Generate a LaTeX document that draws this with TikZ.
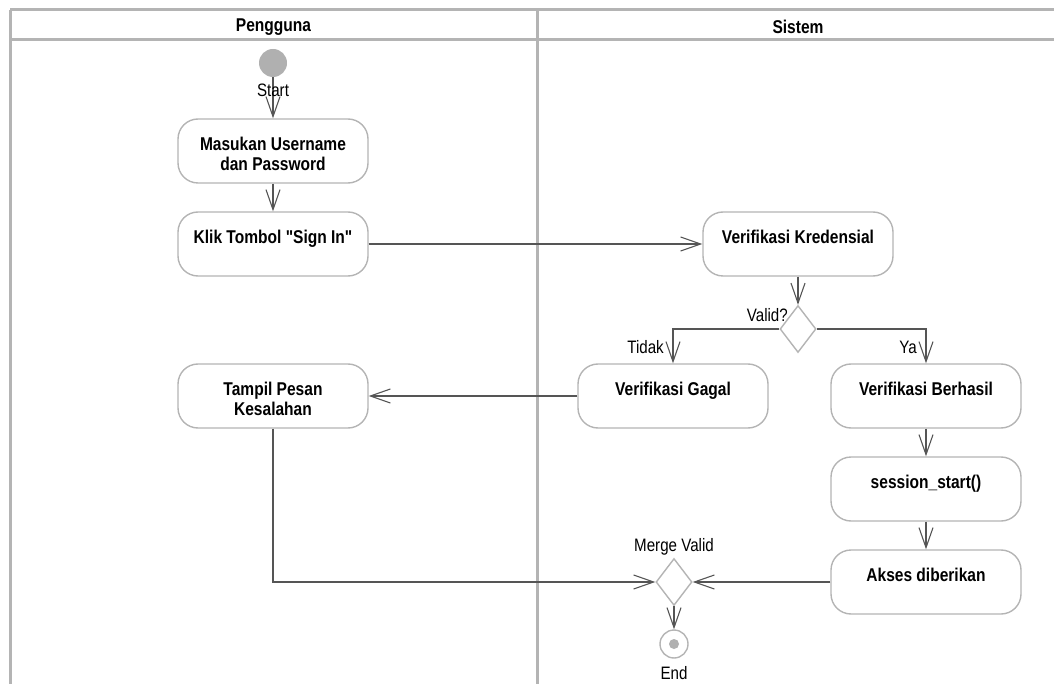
\documentclass[tikz,border=0pt]{standalone}
\usepackage{fontspec}
\usetikzlibrary{arrows.meta,shapes.geometric}
\newfontfamily\narrowsans{Liberation Sans}[FakeStretch=0.84]
\definecolor{lanegray}{HTML}{B4B4B4}
\definecolor{boxgray}{HTML}{B4B4B4}
\definecolor{flowgray}{HTML}{555555}
\definecolor{dotgray}{HTML}{B0B0B0}
\tikzset{
  lane/.style={draw=lanegray, line width=3pt},
  header/.style={font=\narrowsans\fontsize{18.5}{20}\selectfont\bfseries},
  acttext/.style={align=center, inner sep=0pt, yshift=-3pt,
    font=\narrowsans\fontsize{18.5}{20}\selectfont\bfseries},
  act/.style={draw=boxgray, line width=1.4pt, rounded corners=20pt,
    minimum width=190pt, minimum height=64pt, inner sep=0pt,
    label={[acttext]center:#1}},
  decision/.style={diamond, draw=boxgray, line width=1.4pt, fill=white,
    minimum width=36pt, minimum height=47pt, inner sep=0pt},
  tag/.style={font=\narrowsans\fontsize{18}{20}\selectfont, inner sep=0pt},
  flow/.style={draw=flowgray, line width=1.4pt,
    -{Straight Barb[length=20pt, width=14pt, line width=1.1pt]}},
}
\begin{document}
\begin{tikzpicture}[x=1pt, y=-1pt]
\useasboundingbox (0,0) rectangle (1054,684);

% swimlane frame
\draw[lane] (10,10) -- (1062,10);
\draw[lane] (10,40) -- (1062,40);
\draw[lane] (10,10) -- (10,690);
\draw[lane] (537,10) -- (537,690);
\node[header] (hUser) at (273.5,27) {Pengguna};
\node[header] (hSys)  at (798,27) {Sistem};

% initial node
\node[circle, fill=dotgray, minimum size=28pt, inner sep=0pt] (start) at (273,63) {};

% activities
\node[act={Masukan Username\\dan Password}] (masuk)  at (273,151) {};
\node[act={Klik Tombol "Sign In"\\ }]       (klik)     at (273,244) {};
\node[act={Verifikasi Kredensial\\ }]       (verk)     at (798,244) {};
\node[act={Verifikasi Gagal\\ }]            (gagal)    at (673,396) {};
\node[act={Verifikasi Berhasil\\ }]         (berhasil) at (926,396) {};
\node[act={Tampil Pesan\\Kesalahan}]        (tampil)   at (273,396) {};
\node[act={session\_start()\\ }]            (session)  at (926,489) {};
\node[act={Akses diberikan\\ }]             (akses)    at (926,582) {};

% decision and merge
\node[decision] (valid) at (798,329) {};
\node[decision] (merge) at (674,582) {};

% final node
\node[circle, draw=boxgray, line width=1.4pt, fill=white, minimum size=28pt, inner sep=0pt] (end) at (674,644) {};
\node[circle, fill=dotgray, minimum size=10pt, inner sep=0pt] (endDot) at (end.center) {};

% flows
\draw[flow] (start) -- (masuk.north);
\draw[flow] (masuk) -- (klik);
\draw[flow] (klik.east) -- (verk.west);
\draw[flow] (verk.south) -- (valid.north);
\draw[flow] (valid.west) -| (gagal.north);
\draw[flow] (valid.east) -| (berhasil.north);
\draw[flow] (gagal.west) -- (tampil.east);
\draw[flow] (berhasil) -- (session);
\draw[flow] (session) -- (akses);
\draw[flow] (akses.west) -- (merge.east);
\draw[flow] (tampil.south) |- (merge.west);
\draw[flow] (merge.south) -- (end.north);

% labels
\node[tag] (lStart) at (273,90.5) {Start};
\node[tag, anchor=east] (lValid) at (788,315) {Valid?};
\node[tag, anchor=east] (lTidak) at (664,347) {Tidak};
\node[tag, anchor=east] (lYa) at (917,347) {Ya};
\node[tag] (lMerge) at (674,547) {Merge Valid};
\node[tag] (lEnd) at (674,673) {End};
\end{tikzpicture}
\end{document}
